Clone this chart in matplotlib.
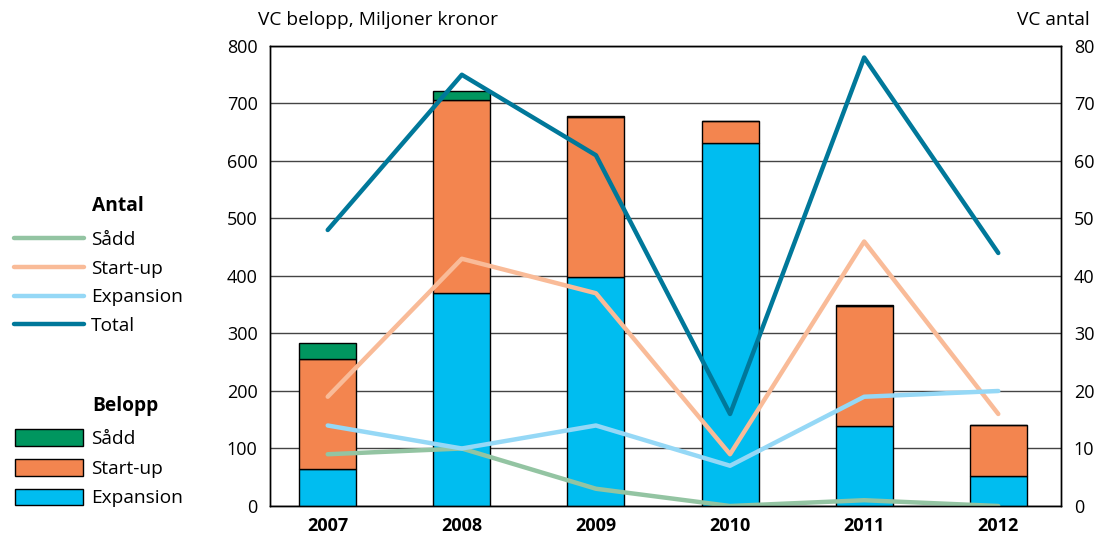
import numpy as np
import matplotlib.pyplot as plt
from matplotlib.lines import Line2D
from matplotlib.patches import Patch

plt.rcParams['font.family'] = ['Open Sans', 'DejaVu Sans']

years = ['2007', '2008', '2009', '2010', '2011', '2012']

# belopp, miljoner kronor (staplar)
belopp_expansion = [64, 370, 398, 632, 139, 53]
belopp_startup = [191, 336, 278, 37, 209, 87]
belopp_sadd = [28, 16, 3, 0, 2, 0]

# antal (linjer)
antal_sadd = [9, 10, 3, 0, 1, 0]
antal_startup = [19, 43, 37, 9, 46, 16]
antal_expansion = [14, 10, 14, 7, 19, 20]
antal_total = [48, 75, 61, 16, 78, 44]

c_green = '#00965f'
c_orange = '#f3854f'
c_cyan = '#00bdf0'
l_sadd = '#93c4a2'
l_startup = '#f9bb98'
l_expansion = '#95d8f6'
l_total = '#00789a'

fs = 13
fs_txt = 13.8
fig = plt.figure(figsize=(11.09, 5.38), dpi=100)
ax = fig.add_axes([0.2435, 0.0595, 0.7135, 0.855])
ax2 = ax.twinx()

x = np.arange(len(years))
w = 0.425
exp = np.array(belopp_expansion)
st = np.array(belopp_startup)
sd = np.array(belopp_sadd)
ax.bar(x, exp, w, color=c_cyan, edgecolor='black', linewidth=1, zorder=3)
ax.bar(x, st, w, bottom=exp, color=c_orange, edgecolor='black', linewidth=1, zorder=3)
ax.bar(x, sd, w, bottom=exp + st, color=c_green, edgecolor='black', linewidth=1, zorder=3)

ax.set_ylim(0, 800)
ax.set_yticks(range(0, 801, 100))
ax.set_xlim(-0.43, 5.47)
ax.set_xticks(x)
ax.set_xticklabels(years, fontweight='bold')
ax.yaxis.grid(True, color='#444444', linewidth=1, zorder=0)
ax.set_axisbelow(True)
ax.tick_params(axis='y', length=0, labelsize=fs, pad=9)
ax.tick_params(axis='x', length=0, labelsize=fs, pad=8)

lw = 3.2
ax2.plot(x, antal_sadd, color=l_sadd, lw=lw, solid_capstyle='round')
ax2.plot(x, antal_startup, color=l_startup, lw=lw, solid_capstyle='round')
ax2.plot(x, antal_expansion, color=l_expansion, lw=lw, solid_capstyle='round')
ax2.plot(x, antal_total, color=l_total, lw=lw, solid_capstyle='round')
ax2.set_ylim(0, 80)
ax2.set_yticks(range(0, 81, 10))
ax2.tick_params(axis='y', length=0, labelsize=fs, pad=9)

for a in (ax, ax2):
    for s in a.spines.values():
        s.set_color('black')
        s.set_linewidth(1)

fig.text(0.2325, 0.962, 'VC belopp, Miljoner kronor', fontsize=fs_txt, ha='left', va='center')
fig.text(0.983, 0.962, 'VC antal', fontsize=fs_txt, ha='right', va='center')

# legender
h1 = [Line2D([], [], color=c, lw=lw, solid_capstyle='round')
      for c in (l_sadd, l_startup, l_expansion, l_total)]
leg1 = fig.legend(h1, ['Sådd', 'Start-up', 'Expansion', 'Total'], loc='upper left',
                  bbox_to_anchor=(0.006, 0.585), frameon=False, fontsize=fs_txt,
                  handlelength=3.65, handletextpad=0.35, labelspacing=0.56,
                  borderaxespad=0)
h2 = [Patch(facecolor=c, edgecolor='black', linewidth=1)
      for c in (c_green, c_orange, c_cyan)]
leg2 = fig.legend(h2, ['Sådd', 'Start-up', 'Expansion'], loc='upper left',
                  bbox_to_anchor=(0.007, 0.216), frameon=False, fontsize=fs_txt,
                  handlelength=3.55, handleheight=0.95, handletextpad=0.4,
                  labelspacing=0.56, borderaxespad=0)
fig.text(0.083, 0.617, 'Antal', fontsize=fs_txt, fontweight='bold', ha='left', va='center')
fig.text(0.083, 0.245, 'Belopp', fontsize=fs_txt, fontweight='bold', ha='left', va='center')

fig.savefig('out.png', dpi=100)
